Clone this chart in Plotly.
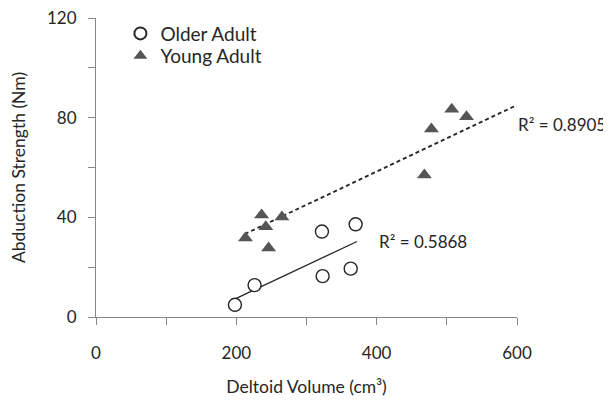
import plotly.graph_objects as go

# Data
older_x = [198, 226, 322, 370, 323, 363]
older_y = [4.9, 12.8, 34.3, 37.2, 16.4, 19.4]
young_x = [213, 236, 242, 246, 265, 468, 478, 507, 528]
young_y = [31.7, 40.9, 36.2, 27.7, 40.1, 57.0, 75.5, 83.4, 80.4]

# Trend lines (end points)
older_trend_x = [200, 372]
older_trend_y = [7.5, 30.3]
young_trend_x = [212, 598]
young_trend_y = [33.3, 84.8]

r2_older = "0.5868"
r2_young = "0.8905"

x_ticks = [0, 200, 400, 600]
y_ticks = [0, 40, 80, 120]

FONT = "Lato"
TXT = "#262626"
AX = "#868686"

fig = go.Figure()
fig.add_trace(go.Scatter(x=older_trend_x, y=older_trend_y, mode="lines",
                         line=dict(color="#262626", width=1.3), showlegend=False, hoverinfo="skip"))
fig.add_trace(go.Scatter(x=young_trend_x, y=young_trend_y, mode="lines",
                         line=dict(color="#262626", width=1.8, dash="4px,3px"), showlegend=False, hoverinfo="skip"))
fig.add_trace(go.Scatter(x=older_x, y=older_y, mode="markers", name="Older Adult", legend="legend",
                         marker=dict(symbol="circle", size=13, color="white",
                                     line=dict(color="#262626", width=1.4))))
fig.add_trace(go.Scatter(x=young_x, y=young_y, mode="markers", name="Young Adult", legend="legend2",
                         marker=dict(symbol="triangle-up", size=13, color="#555555",
                                     line=dict(width=0))))

axis_common = dict(showline=True, linecolor=AX, linewidth=1, ticks="outside", ticklen=7,
                   tickcolor=AX, tickwidth=1, showgrid=False, zeroline=False, automargin=False,
                   ticklabeloverflow="allow",
                   tickfont=dict(family=FONT, size=17, color=TXT))

legend_common = dict(xanchor="left", yanchor="top", bgcolor="rgba(0,0,0,0)",
                     font=dict(family=FONT, size=19, color=TXT), itemsizing="constant")

fig.update_layout(
    width=603, height=396,
    margin=dict(l=88, r=94, t=7, b=87),
    paper_bgcolor="white", plot_bgcolor="white",
    font=dict(family=FONT, color=TXT),
    xaxis=dict(range=[0, 600], tickvals=x_ticks, ticklabelstandoff=14,
               minor=dict(dtick=100, tick0=0, ticks="outside", ticklen=7, tickcolor=AX, showgrid=False),
               title=dict(text="Deltoid Volume (cm³)", font=dict(family=FONT, size=17.5, color=TXT), standoff=17.5),
               **axis_common),
    yaxis=dict(range=[0, 120], tickvals=y_ticks, ticklabelstandoff=8,
               minor=dict(dtick=20, tick0=0, ticks="outside", ticklen=7, tickcolor=AX, showgrid=False),
               title=dict(text="Abduction Strength (Nm)", font=dict(family=FONT, size=17.5, color=TXT), standoff=18.5),
               **axis_common),
    legend=dict(x=0.058, y=1.0116, **legend_common),
    legend2=dict(x=0.058, y=0.937, **legend_common),
    annotations=[
        dict(x=400.5, y=30.2, xref="x", yref="y", text="R² = " + r2_older, showarrow=False,
             xanchor="left", yanchor="middle", font=dict(family=FONT, size=17, color=TXT)),
        dict(x=0.9988, y=77.3, xref="paper", yref="y", text="R² = " + r2_young, showarrow=False,
             xanchor="left", yanchor="middle", font=dict(family=FONT, size=17, color=TXT)),
    ],
)

fig.write_html("out.html")
